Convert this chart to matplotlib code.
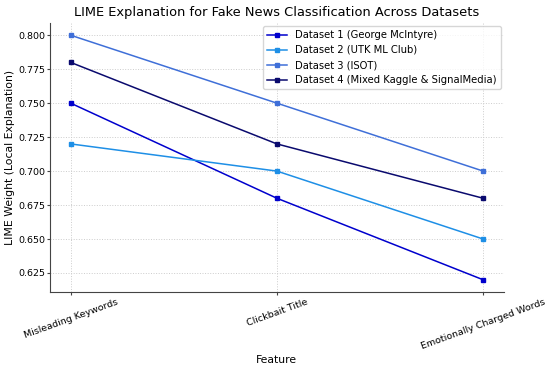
import matplotlib.pyplot as plt

features = ["Misleading Keywords", "Clickbait Title", "Emotionally Charged Words"]
labels = ["Dataset 1 (George McIntyre)", "Dataset 2 (UTK ML Club)",
          "Dataset 3 (ISOT)", "Dataset 4 (Mixed Kaggle & SignalMedia)"]
d1 = [0.75, 0.68, 0.62]
d2 = [0.72, 0.70, 0.65]
d3 = [0.80, 0.75, 0.70]
d4 = [0.78, 0.72, 0.68]
colors = ["#0000CD", "#1E8FE6", "#3F6FD8", "#0A0A6E"]

fig, ax = plt.subplots(figsize=(5.5, 3.68), dpi=100)
for vals, lab, c in zip([d1, d2, d3, d4], labels, colors):
    ax.plot(features, vals, marker="s", markersize=3.3, linewidth=1.1, color=c, label=lab)

ax.set_title("LIME Explanation for Fake News Classification Across Datasets", fontsize=9.4, pad=5)
ax.set_xlabel("Feature", fontsize=7.8, labelpad=3)
ax.set_ylabel("LIME Weight (Local Explanation)", fontsize=7.8, labelpad=2)
ax.tick_params(labelsize=6.8, color="#444444", length=2.2, pad=1.5)
plt.setp(ax.get_xticklabels(), rotation=20)
ax.grid(True, linestyle=":", color="#cccccc", linewidth=0.7)
ax.spines["top"].set_visible(False)
ax.spines["right"].set_visible(False)
for s in ["left", "bottom"]:
    ax.spines[s].set_color("#444444")
leg = ax.legend(fontsize=7.2, loc="upper right", borderaxespad=0.3)
fig.subplots_adjust(left=0.091, right=0.916, top=0.9375, bottom=0.2065)
plt.savefig("out.png")
